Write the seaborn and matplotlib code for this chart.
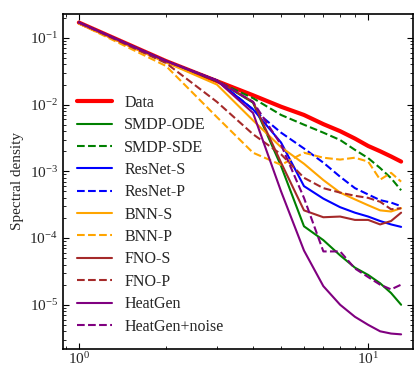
import numpy as np
import pandas as pd
import matplotlib
matplotlib.use("Agg")
import matplotlib.pyplot as plt
import seaborn as sns

k = [1, 2, 3, 4, 5, 6, 7, 8, 9, 10, 11, 12, 13]

data = [0.17, 0.045, 0.0225, 0.0138, 0.0093, 0.0070, 0.0051, 0.0040, 0.0031, 0.0024, 0.0020, 0.00167, 0.0014]
smdp_ode = [0.17, 0.045, 0.023, 0.0107, 1.2e-3, 1.5e-4, 9.3e-5, 5.5e-5, 3.6e-5, 2.8e-5, 2.1e-5, 1.5e-5, 1.0e-5]
smdp_sde = [0.17, 0.045, 0.0225, 0.0125, 7.0e-3, 5.0e-3, 3.8e-3, 2.95e-3, 2.1e-3, 1.58e-3, 1.12e-3, 7.9e-4, 5.2e-4]
resnet_s = [0.17, 0.045, 0.023, 8.5e-3, 2.7e-3, 6.0e-4, 3.9e-4, 2.9e-4, 2.4e-4, 2.1e-4, 1.8e-4, 1.6e-4, 1.47e-4]
resnet_p = [0.17, 0.045, 0.023, 8.5e-3, 3.8e-3, 2.2e-3, 1.35e-3, 8.3e-4, 5.6e-4, 4.5e-4, 3.7e-4, 3.4e-4, 3.0e-4]
bnn_s = [0.165, 0.043, 0.020, 5.8e-3, 2.3e-3, 1.3e-3, 7.4e-4, 4.8e-4, 3.8e-4, 3.1e-4, 2.6e-4, 2.5e-4, 2.8e-4]
bnn_p = [0.165, 0.038, 6.5e-3, 1.9e-3, 1.25e-3, 1.9e-3, 1.6e-3, 1.5e-3, 1.6e-3, 1.4e-3, 7.5e-4, 9.5e-4, 7.0e-4]
fno_s = [0.17, 0.045, 0.023, 0.011, 1.35e-3, 2.6e-4, 2.05e-4, 2.1e-4, 1.87e-4, 1.87e-4, 1.6e-4, 1.8e-4, 2.4e-4]
fno_p = [0.17, 0.042, 0.011, 3.6e-3, 1.8e-3, 8.0e-4, 5.6e-4, 4.8e-4, 4.3e-4, 4.0e-4, 3.5e-4, 2.7e-4, 2.8e-4]
heatgen = [0.17, 0.045, 0.023, 7.5e-3, 5.0e-4, 6.5e-5, 1.9e-5, 1.0e-5, 6.6e-6, 5.0e-6, 4.0e-6, 3.7e-6, 3.6e-6]
heatgen_noise = [0.17, 0.045, 0.023, 0.011, 2.5e-3, 4.0e-4, 6.3e-5, 6.3e-5, 3.5e-5, 2.6e-5, 2.0e-5, 1.7e-5, 2.0e-5]

labels = ["Data", "SMDP-ODE", "SMDP-SDE", "ResNet-S", "ResNet-P", "BNN-S", "BNN-P",
          "FNO-S", "FNO-P", "HeatGen", "HeatGen+noise"]
series = [data, smdp_ode, smdp_sde, resnet_s, resnet_p, bnn_s, bnn_p, fno_s, fno_p, heatgen, heatgen_noise]
colors = ["red", "green", "green", "blue", "blue", "orange", "orange", "brown", "brown", "purple", "purple"]
styles = ["-", "-", "--", "-", "--", "-", "--", "-", "--", "-", "--"]
widths = [3.0, 1.5, 1.5, 1.5, 1.5, 1.5, 1.5, 1.5, 1.5, 1.5, 1.5]

sns.set_style("ticks")
plt.rcParams['font.family'] = ['Liberation Serif', 'DejaVu Serif']
plt.rcParams['mathtext.fontset'] = 'stix'

fig = plt.figure(figsize=(4.16, 3.66), dpi=100)
ax = fig.add_axes([0.151, 0.0464, 0.842, 0.9156])

for lab, vals, c, ls, lw in zip(labels, series, colors, styles, widths):
    df = pd.DataFrame({"k": k, "v": vals})
    sns.lineplot(data=df, x="k", y="v", ax=ax, color=c, linestyle=ls, linewidth=lw, label=lab)

ax.set_xscale("log")
ax.set_yscale("log")
ax.set_xlim(0.88, 14.3)
ax.set_ylim(2.17e-6, 0.229)
ax.set_xlabel("")
ax.set_ylabel("Spectral density", fontsize=11)
ax.tick_params(which="both", direction="in", top=True, right=True, labelsize=11, color="black")
ax.tick_params(which="major", length=4)
ax.tick_params(which="minor", length=2)
ax.tick_params(axis="x", which="both", pad=1.5)
for s in ax.spines.values():
    s.set_linewidth(1.2)
    s.set_color("black")

ax.legend(loc="lower left", frameon=False, fontsize=11.5, labelspacing=0.4,
          handlelength=2.2, handletextpad=0.75, borderaxespad=0.6, borderpad=0.3)

fig.savefig("out.png", dpi=100)
